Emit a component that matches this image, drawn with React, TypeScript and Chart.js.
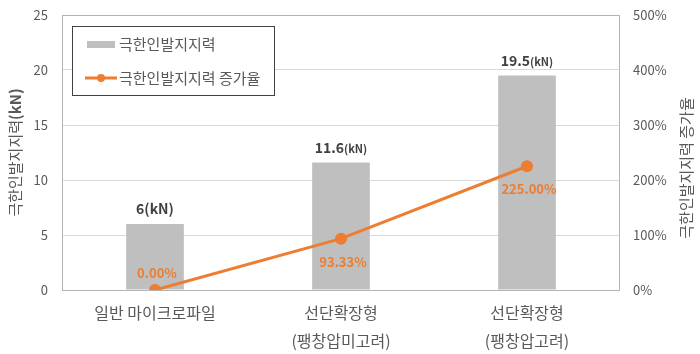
import React, { useEffect, useRef } from "react";
import { Chart, registerables } from "chart.js";

Chart.register(...registerables);

const categories: string[][] = [
  ["일반 마이크로파일"],
  ["선단확장형", "(팽창압미고려)"],
  ["선단확장형", "(팽창압고려)"],
];
const forceValues: number[] = [6, 11.6, 19.5];
const rateValues: number[] = [0, 93.33, 225.0];
const forceLabels: string[] = ["6", "11.6", "19.5"];
const rateLabels: string[] = ["0.00%", "93.33%", "225.00%"];
const seriesNames: string[] = ["극한인발지지력", "극한인발지지력 증가율"];
const leftTitleMain = "극한인발지지력";
const leftTitleUnit = "(kN)";
const rightTitle = "극한인발지지력 증가율";

const FONT = "'Noto Sans CJK KR', 'Noto Sans', sans-serif";
const GRAY_TEXT = "#595959";
const ORANGE = "#ed7d31";
const BAR_GRAY = "#bfbfbf";

const overlay = {
  id: "overlay",
  afterDraw(chart: any) {
    const ctx = chart.ctx;
    const area = chart.chartArea;
    ctx.save();
    // plot border
    ctx.strokeStyle = "#b4b4b4";
    ctx.lineWidth = 1;
    ctx.strokeRect(Math.round(area.left) + 0.5, Math.round(area.top) + 0.5, Math.round(area.right - area.left) - 1, Math.round(area.bottom - area.top));

    // bar value labels
    const barMeta = chart.getDatasetMeta(1);
    ctx.fillStyle = "#404040";
    ctx.textBaseline = "middle";
    barMeta.data.forEach((el: any, i: number) => {
      const num = forceLabels[i];
      const bigUnit = i === 0;
      const unitFont = bigUnit ? `bold 14px ${FONT}` : `bold 11px ${FONT}`;
      ctx.font = `bold 14px ${FONT}`;
      const wNum = ctx.measureText(num).width;
      ctx.font = unitFont;
      const wUnit = ctx.measureText("(kN)").width;
      const total = wNum + wUnit;
      const x0 = el.x - total / 2;
      const y = el.y - 15;
      ctx.textAlign = "left";
      ctx.font = `bold 14px ${FONT}`;
      ctx.fillText(num, x0, y);
      ctx.font = unitFont;
      ctx.fillText("(kN)", x0 + wNum, bigUnit ? y : y + 1);
    });

    // line labels
    const lineMeta = chart.getDatasetMeta(0);
    ctx.fillStyle = ORANGE;
    ctx.font = `bold 13px ${FONT}`;
    ctx.textAlign = "center";
    lineMeta.data.forEach((el: any, i: number) => {
      const dy = i === 0 ? -17 : 23;
      ctx.fillText(rateLabels[i], el.x + 2, el.y + dy);
    });

    // legend
    const lx = area.left + 10;
    const ly = area.top + 11;
    ctx.fillStyle = "#ffffff";
    ctx.fillRect(lx, ly, 202, 69);
    ctx.strokeStyle = "#404040";
    ctx.lineWidth = 1;
    ctx.strokeRect(lx + 0.5, ly + 0.5, 202, 69);
    ctx.fillStyle = BAR_GRAY;
    ctx.fillRect(lx + 15, ly + 15, 28, 7);
    ctx.strokeStyle = ORANGE;
    ctx.lineWidth = 3;
    ctx.beginPath();
    ctx.moveTo(lx + 13, ly + 52);
    ctx.lineTo(lx + 45, ly + 52);
    ctx.stroke();
    ctx.fillStyle = ORANGE;
    ctx.beginPath();
    ctx.arc(lx + 29, ly + 52, 4, 0, Math.PI * 2);
    ctx.fill();
    ctx.fillStyle = GRAY_TEXT;
    ctx.font = `15px ${FONT}`;
    ctx.textAlign = "left";
    ctx.textBaseline = "middle";
    ctx.fillText(seriesNames[0], lx + 47, ly + 18);
    ctx.fillText(seriesNames[1], lx + 47, ly + 52);

    // axis titles
    ctx.fillStyle = GRAY_TEXT;
    ctx.save();
    ctx.translate(15, (area.top + area.bottom) / 2);
    ctx.rotate(-Math.PI / 2);
    ctx.font = `15px ${FONT}`;
    const wMain = ctx.measureText(leftTitleMain).width;
    ctx.font = `bold 15px ${FONT}`;
    const wUnit = ctx.measureText(leftTitleUnit).width;
    const start = -(wMain + wUnit) / 2;
    ctx.textAlign = "left";
    ctx.font = `15px ${FONT}`;
    ctx.fillText(leftTitleMain, start, 0);
    ctx.font = `bold 15px ${FONT}`;
    ctx.fillText(leftTitleUnit, start + wMain, 0);
    ctx.restore();
    ctx.save();
    ctx.translate(686, 168);
    ctx.rotate(-Math.PI / 2);
    ctx.textAlign = "center";
    ctx.font = `15px ${FONT}`;
    ctx.fillText(rightTitle, 0, 0);
    ctx.restore();
    ctx.restore();
  },
};

const zeroPad = (s: any) => {
  s.paddingTop = 0;
  s.paddingBottom = 0;
  s.paddingLeft = 0;
  s.paddingRight = 0;
};

export default function App() {
  const ref = useRef<HTMLCanvasElement | null>(null);
  useEffect(() => {
    document.body.style.margin = "0";
    const canvas = ref.current;
    if (!canvas) return;
    const chart = new Chart(canvas, {
      type: "bar",
      data: {
        labels: categories,
        datasets: [
          {
            type: "line",
            label: seriesNames[1],
            data: rateValues,
            yAxisID: "y1",
            borderColor: ORANGE,
            backgroundColor: ORANGE,
            borderWidth: 3,
            pointRadius: 6,
            pointHoverRadius: 6,
            pointBackgroundColor: ORANGE,
            pointBorderWidth: 0,
            order: 0,
          } as any,
          {
            type: "bar",
            label: seriesNames[0],
            data: forceValues,
            yAxisID: "y",
            backgroundColor: BAR_GRAY,
            barPercentage: 0.31,
            categoryPercentage: 1,
            order: 1,
          },
        ],
      },
      options: {
        responsive: false,
        animation: false,
        devicePixelRatio: 1,
        layout: { padding: { top: 15, left: 0, right: 0, bottom: 0 } },
        plugins: { legend: { display: false }, tooltip: { enabled: false } },
        scales: {
          x: {
            grid: { display: false, drawTicks: false },
            border: { display: false },
            ticks: {
              color: GRAY_TEXT,
              font: { family: FONT, size: 16, lineHeight: 1.75 },
              padding: 9,
              maxRotation: 0,
              autoSkip: false,
            },
            afterFit: (s: any) => {
              s.height = 64;
              zeroPad(s);
            },
          },
          y: {
            position: "left",
            min: 0,
            max: 25,
            grid: { color: "#d9d9d9", drawTicks: false },
            border: { display: false },
            ticks: {
              stepSize: 5,
              color: GRAY_TEXT,
              font: { family: FONT, size: 13 },
              padding: 14,
            },
            afterFit: (s: any) => {
              s.width = 62;
              zeroPad(s);
            },
          },
          y1: {
            position: "right",
            min: 0,
            max: 500,
            grid: { display: false, drawTicks: false },
            border: { display: false },
            ticks: {
              stepSize: 100,
              color: GRAY_TEXT,
              font: { family: FONT, size: 13 },
              padding: 13,
              callback: (v: any) => `${v}%`,
            },
            afterFit: (s: any) => {
              s.width = 80;
              zeroPad(s);
            },
          },
        },
      },
      plugins: [overlay],
    });
    return () => chart.destroy();
  }, []);
  return (
    <div style={{ width: 700, height: 354, background: "#fff" }}>
      <canvas ref={ref} width={700} height={354} />
    </div>
  );
}
